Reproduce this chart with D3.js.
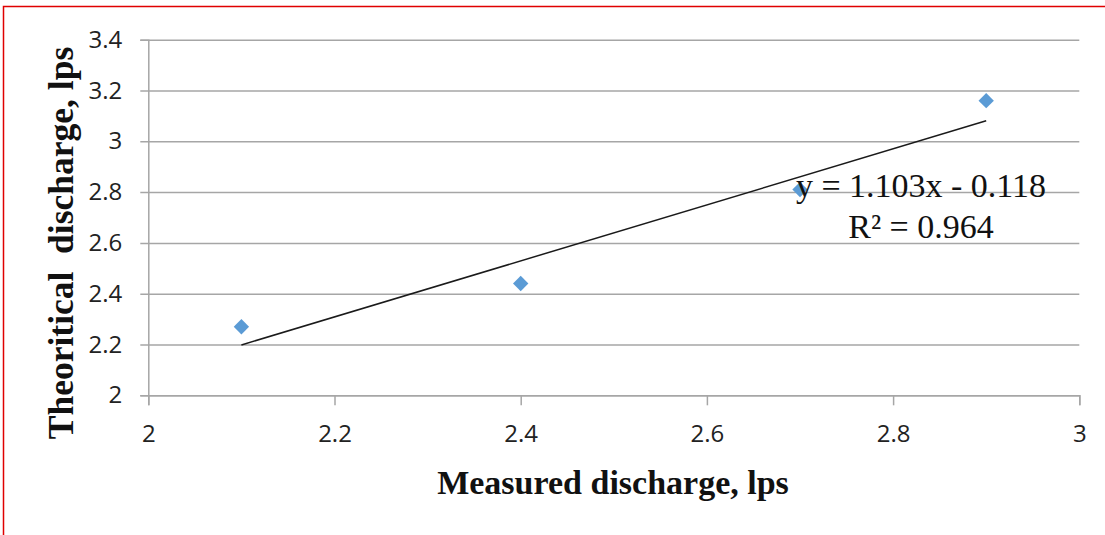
<!DOCTYPE html>
<html>
<head>
<meta charset="UTF-8">
<title>Measured vs theoritical discharge</title>
<script src="https://d3js.org/d3.v7.min.js"></script>
<style>
	body { margin: 0; background: #fff; }
	svg { display: block; }
	.tick text { font-family: "Open Sans", sans-serif; font-size: 24px; fill: #222; }
	.title { font-family: "Liberation Serif", "Times New Roman", serif; font-weight: bold; font-size: 34px; fill: #111; white-space: pre; }
	.eq { font-family: "Liberation Serif", "Times New Roman", serif; font-size: 34px; fill: #111; }
</style>
</head>
<body>
<div id="chart"></div>
<script>
// values
var measured = [2.1, 2.4, 2.7, 2.9];
var theoretical = [2.27, 2.44, 2.81, 3.16];
var xTicks = [2, 2.2, 2.4, 2.6, 2.8, 3];
var yTicks = [2, 2.2, 2.4, 2.6, 2.8, 3, 3.2, 3.4];
var slope = 1.103, intercept = -0.118, r2 = 0.964;

var width = 1105, height = 535;
var svg = d3.select("#chart").append("svg")
	.attr("width", width)
	.attr("height", height);

// red frame (only top and left show in the picture)
svg.append("rect")
	.attr("x", 3.5).attr("y", 6.5)
	.attr("width", width + 10).attr("height", height + 10)
	.attr("fill", "none").attr("stroke", "#e00000").attr("stroke-width", 1.5);

var x = d3.scaleLinear().domain([2, 3]).range([148.3, 1079.3]);
var y = d3.scaleLinear().domain([2, 3.4]).range([395.3, 39.7]);
var fmt = function(d){ return d3.format("")(+d.toFixed(1)); };

// horizontal gridlines + y axis
var yAxis = d3.axisLeft(y).tickValues(yTicks).tickSize(8).tickPadding(18).tickFormat(fmt);
var gy = svg.append("g").attr("transform", "translate(" + x(2) + ",0)").call(yAxis);
gy.select(".domain").attr("stroke", "#a6a6a6").attr("stroke-width", 1.5);
gy.selectAll(".tick line").attr("stroke", "#a6a6a6").attr("stroke-width", 1.5)
	.attr("x2", x(3) - x(2)).attr("x1", -8);

var xAxis = d3.axisBottom(x).tickValues(xTicks).tickSize(10).tickPadding(20).tickFormat(fmt);
var gx = svg.append("g").attr("transform", "translate(0," + y(2) + ")").call(xAxis);
gx.select(".domain").attr("stroke", "#a6a6a6").attr("stroke-width", 1.5);
gx.selectAll(".tick line").attr("stroke", "#a6a6a6").attr("stroke-width", 1.5);

// linear trendline over the data range
var xMin = d3.min(measured), xMax = d3.max(measured);
svg.append("line")
	.attr("x1", x(xMin)).attr("y1", y(slope * xMin + intercept))
	.attr("x2", x(xMax)).attr("y2", y(slope * xMax + intercept))
	.attr("stroke", "#1a1a1a").attr("stroke-width", 1.5);

// diamond markers
var diamond = d3.symbol().type(d3.symbolDiamond2).size(150);
svg.selectAll("path.pt")
	.data(measured)
	.enter().append("path")
		.attr("class", "pt")
		.attr("d", diamond)
		.attr("transform", function(d, i){ return "translate(" + x(d) + "," + y(theoretical[i]) + ")"; })
		.attr("fill", "#5b9bd5");

// equation label
svg.append("text").attr("class", "eq")
	.attr("x", 921).attr("y", 197).attr("text-anchor", "middle")
	.text("y = " + slope + "x - " + Math.abs(intercept));
svg.append("text").attr("class", "eq")
	.attr("x", 921).attr("y", 238).attr("text-anchor", "middle")
	.text("R² = " + r2);

// axis titles
svg.append("text").attr("class", "title")
	.attr("x", 613).attr("y", 494).attr("text-anchor", "middle")
	.text("Measured discharge, lps");
svg.append("text").attr("class", "title")
	.attr("transform", "translate(73,243) rotate(-90)")
	.attr("text-anchor", "middle")
	.style("font-size", "35.5px")
	.text("Theoritical  discharge, lps");
</script>
</body>
</html>
